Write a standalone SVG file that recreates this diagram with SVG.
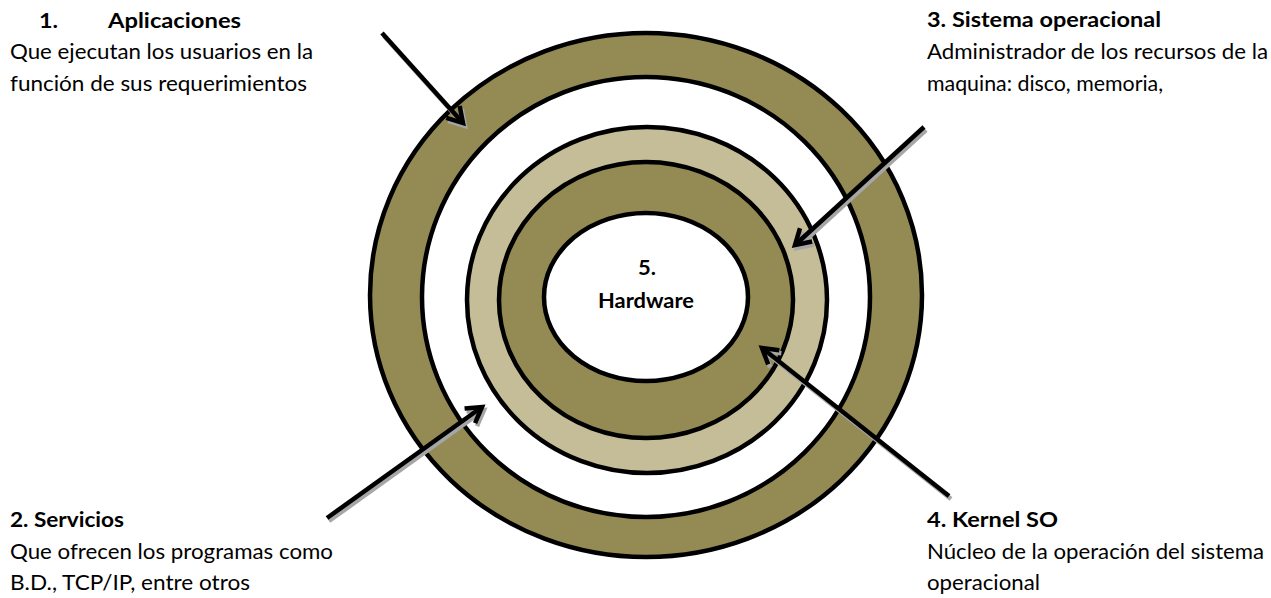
<svg xmlns="http://www.w3.org/2000/svg" width="1271" height="598" viewBox="0 0 1271 598">
<style>
.ring{stroke:#000;stroke-width:4.5}
.dark{fill:#948A54}
.light{fill:#C4BD97}
.white{fill:#FFFFFF}
.t{font-family:Lato,"Liberation Sans",sans-serif;font-size:21px;fill:#000}
.b{font-weight:bold}
.arrow{stroke:#000;stroke-width:4.5;fill:none;stroke-linecap:butt}
.shadow{stroke:#A6A6A6;stroke-width:4.5;fill:none}
</style>
<defs>
<marker id="head" markerUnits="userSpaceOnUse" markerWidth="30" markerHeight="30" refX="0" refY="0" viewBox="-20 -15 30 30" orient="auto" overflow="visible">
<path d="M-15,-9 L0,0 L-15,9" fill="none" stroke="#000" stroke-width="4.5" stroke-linejoin="miter"/>
</marker>
<marker id="headS" markerUnits="userSpaceOnUse" markerWidth="30" markerHeight="30" refX="0" refY="0" viewBox="-20 -15 30 30" orient="auto" overflow="visible">
<path d="M-15,-9 L0,0 L-15,9" fill="none" stroke="#A6A6A6" stroke-width="4.5"/>
</marker>
</defs>
<rect width="1271" height="598" fill="#FFFFFF"/>

<g id="ring-aplicaciones">
<ellipse class="ring dark" cx="646" cy="295" rx="276" ry="262"/>
<ellipse class="ring white" cx="646" cy="297" rx="224" ry="220"/>
</g>
<g id="ring-sistema">
<ellipse class="ring light" cx="647" cy="300" rx="180" ry="173"/>
</g>
<g id="ring-kernel">
<ellipse class="ring dark" cx="646" cy="300" rx="147" ry="138"/>
</g>
<g id="hardware">
<ellipse class="ring white" cx="646" cy="297" rx="102" ry="84"/>
<text class="t b" x="638" y="275" textLength="18" lengthAdjust="spacingAndGlyphs">5.</text>
<text class="t b" x="598" y="308" textLength="96" lengthAdjust="spacingAndGlyphs">Hardware</text>
</g>

<g id="connectors">
<line class="shadow" x1="384" y1="36" x2="465" y2="126" marker-end="url(#headS)"/>
<line class="arrow" x1="382" y1="33" x2="463" y2="123" marker-end="url(#head)"/>
<line class="shadow" x1="926" y1="130" x2="797" y2="248" marker-end="url(#headS)"/>
<line class="arrow" x1="924" y1="127" x2="795" y2="245" marker-end="url(#head)"/>
<line class="shadow" x1="329" y1="521" x2="484" y2="410" marker-end="url(#headS)"/>
<line class="arrow" x1="327" y1="518" x2="482" y2="407" marker-end="url(#head)"/>
<line class="shadow" x1="951" y1="499" x2="764" y2="351" marker-end="url(#headS)"/>
<line class="arrow" x1="949" y1="496" x2="762" y2="348" marker-end="url(#head)"/>
</g>

<g id="label-aplicaciones">
<text class="t b" x="39" y="28" textLength="19" lengthAdjust="spacingAndGlyphs">1.</text>
<text class="t b" x="108" y="28" textLength="133" lengthAdjust="spacingAndGlyphs">Aplicaciones</text>
<text class="t" x="10" y="59" textLength="303" lengthAdjust="spacingAndGlyphs">Que ejecutan los usuarios en la</text>
<text class="t" x="10" y="91" textLength="297" lengthAdjust="spacingAndGlyphs">función de sus requerimientos</text>
</g>
<g id="label-sistema">
<text class="t b" x="927" y="27" textLength="234" lengthAdjust="spacingAndGlyphs">3. Sistema operacional</text>
<text class="t" x="927" y="59" textLength="341" lengthAdjust="spacingAndGlyphs">Administrador de los recursos de la</text>
<text class="t" x="927" y="91" textLength="236" lengthAdjust="spacingAndGlyphs">maquina: disco, memoria,</text>
</g>
<g id="label-servicios">
<text class="t b" x="10" y="527" textLength="114" lengthAdjust="spacingAndGlyphs">2. Servicios</text>
<text class="t" x="10" y="559" textLength="323" lengthAdjust="spacingAndGlyphs">Que ofrecen los programas como</text>
<text class="t" x="10" y="590" textLength="240" lengthAdjust="spacingAndGlyphs">B.D., TCP/IP, entre otros</text>
</g>
<g id="label-kernel">
<text class="t b" x="927" y="527" textLength="131" lengthAdjust="spacingAndGlyphs">4. Kernel SO</text>
<text class="t" x="927" y="559" textLength="337" lengthAdjust="spacingAndGlyphs">Núcleo de la operación del sistema</text>
<text class="t" x="927" y="590" textLength="113" lengthAdjust="spacingAndGlyphs">operacional</text>
</g>
</svg>
